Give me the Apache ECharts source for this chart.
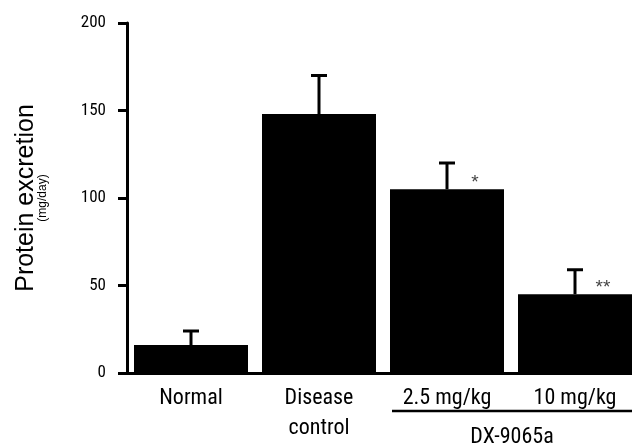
<!DOCTYPE html>
<html><head><meta charset="utf-8">
<script src="https://cdn.jsdelivr.net/npm/echarts@6/dist/echarts.min.js"></script>
<style>html,body{margin:0;padding:0;background:#fff}#c{width:632px;height:444px}</style>
</head><body><div id="c"></div>
<script>
const categories = ['Normal', 'Disease\ncontrol', '2.5 mg/kg', '10 mg/kg'];
const means = [16, 148, 105, 45];
const errors = [8, 22, 15, 14];
const significance = ['', '', '*', '**'];
const yMin = 0, yMax = 200, yStep = 50;
const groupLabel = 'DX-9065a';
const groupFirst = 2, groupLast = 3;

const NARROW = 'Roboto Condensed';
const REG = 'Liberation Sans';
const BAR_W = 114;

const chart = echarts.init(document.getElementById('c'));
const option = {
  animation: false,
  backgroundColor: '#fff',
  grid: { left: 127, top: 23, width: 512, height: 350, containLabel: false, outerBoundsMode: 'none' },
  xAxis: {
    type: 'category', data: categories,
    axisLine: { show: true, onZero: false, lineStyle: { color: '#000', width: 3 } },
    axisTick: { show: false },
    axisLabel: { color: '#000', fontFamily: NARROW, fontSize: 22, lineHeight: 30, margin: 10, interval: 0 },
    splitLine: { show: false }
  },
  yAxis: {
    type: 'value', min: yMin, max: yMax, interval: yStep,
    axisLine: { show: true, lineStyle: { color: '#000', width: 3 } },
    axisTick: { show: true, length: 9, lineStyle: { color: '#000', width: 3 } },
    axisLabel: { color: '#000', fontFamily: NARROW, fontSize: 17, margin: 21 },
    splitLine: { show: false },
    name: '{a|Protein excretion}\n{b|(mg/day)}',
    nameLocation: 'middle', nameRotate: 90, nameGap: 77,
    nameTextStyle: {
      rich: {
        a: { fontFamily: REG, fontSize: 25, color: '#000', lineHeight: 20 },
        b: { fontFamily: REG, fontSize: 12, color: '#000', lineHeight: 14 }
      }
    }
  },
  series: [
    {
      type: 'bar', data: means, barWidth: BAR_W,
      itemStyle: { color: '#000' }, z: 2
    },
    {
      type: 'custom', z: 3,
      data: categories.map((c, i) => [i, means[i], errors[i]]),
      renderItem: function (params, api) {
        const i = api.value(0), m = api.value(1), e = api.value(2);
        const base = api.coord([i, m]);
        const top = api.coord([i, m + e]);
        const children = [
          { type: 'line', shape: { x1: base[0], y1: base[1], x2: top[0], y2: top[1] }, style: { stroke: '#000', lineWidth: 3 } },
          { type: 'line', shape: { x1: top[0] - 8, y1: top[1], x2: top[0] + 8, y2: top[1] }, style: { stroke: '#000', lineWidth: 3 } }
        ];
        const s = significance[params.dataIndex];
        if (s) {
          const p = api.coord([i, m + e * 0.45]);
          children.push({ type: 'text', style: { text: s, x: p[0] + 28, y: p[1] + 5, align: 'center', verticalAlign: 'middle', fontFamily: REG, fontSize: 19, fill: '#444' } });
        }
        return { type: 'group', children: children };
      }
    }
  ]
};
chart.setOption(option);

const x0 = chart.convertToPixel({ xAxisIndex: 0 }, groupFirst) - BAR_W / 2;
const x1 = chart.convertToPixel({ xAxisIndex: 0 }, groupLast) + BAR_W / 2;
const yBase = chart.convertToPixel({ yAxisIndex: 0 }, yMin);
chart.setOption({
  graphic: [
    { type: 'line', shape: { x1: x0 + 2, y1: yBase + 38, x2: x1, y2: yBase + 38 }, style: { stroke: '#000', lineWidth: 2.5 } },
    { type: 'text', style: { text: groupLabel, x: (x0 + 2 + 632) / 2, y: yBase + 64, align: 'center', verticalAlign: 'middle', fontFamily: NARROW, fontSize: 22, fill: '#000' } }
  ]
});
</script></body></html>
